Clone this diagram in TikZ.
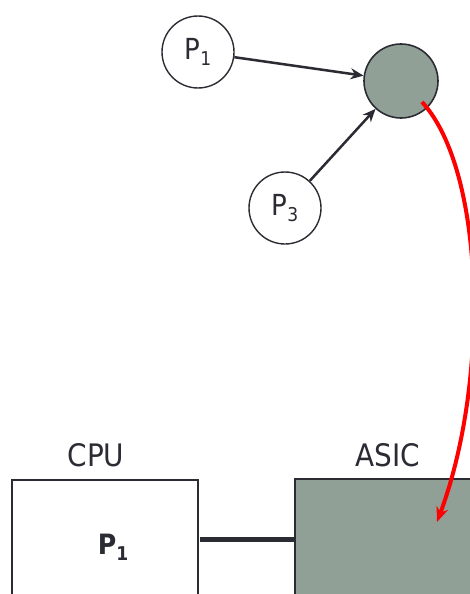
\documentclass[tikz,border=0pt]{standalone}
\usepackage{fontspec}
\setmainfont{DejaVu Sans Condensed}
\usetikzlibrary{arrows.meta}
\definecolor{ink}{RGB}{43,43,51}
\definecolor{sage}{RGB}{145,160,150}
\definecolor{hot}{RGB}{255,0,0}
% process name with a lowered index
\newcommand{\procname}[1]{P\raisebox{-6pt}{\fontsize{19}{19}\selectfont #1}}
\tikzset{
  proc/.style={circle, draw=ink, line width=1.4pt, fill=white, minimum size=72pt, inner sep=0pt,
               font=\fontsize{29}{30}\selectfont, text=ink},
  hub/.style={circle, draw=ink, line width=1.6pt, fill=sage, minimum size=74pt, inner sep=0pt},
  unit/.style={draw=ink, line width=2.2pt},
  caption/.style={font=\fontsize{31}{33}\selectfont, text=ink},
  feed/.style={draw=ink, line width=2.5pt, -{Stealth[length=13pt,width=11pt]}},
  bind/.style={draw=hot, line width=4pt, -{Stealth[length=15pt,width=12pt]}},
  bus/.style={draw=ink, line width=5pt}
}
\begin{document}
\begin{tikzpicture}[x=1pt,y=-1pt]
  \useasboundingbox (0,0) rectangle (470,594);
  \clip (0,0) rectangle (470,594);
  % task graph
  \node[proc] (p1) at (198,52) {\procname{1}};
  \node[proc] (p3) at (285,208) {\procname{3}};
  \node[hub]  (h)  at (401,81) {};
  \draw[feed] (p1) -- (h);
  \draw[feed] (p3) -- (h);
  % platform
  \node[caption] (cpulbl) at (96,455) {CPU};
  \node[caption] (asiclbl) at (388,455) {ASIC};
  \draw[unit, fill=white] (12,480) rectangle (198,620);
  \draw[unit, fill=sage] (295,479) rectangle (500,620);
  \coordinate (cpuR) at (198,539);
  \coordinate (asicL) at (295,539);
  \draw[bus] (cpuR) ++(2,0) -- (asicL);
  \node[font=\fontsize{28}{30}\selectfont\bfseries, text=ink] (cpup1) at (113,547) {\procname{1}};
  % mapping of the hub onto the ASIC
  \coordinate (tip) at (437,522);
  \draw[bind] (h.center) ++(21,21) .. controls (485,170) and (490,380) .. (tip);
\end{tikzpicture}
\end{document}
